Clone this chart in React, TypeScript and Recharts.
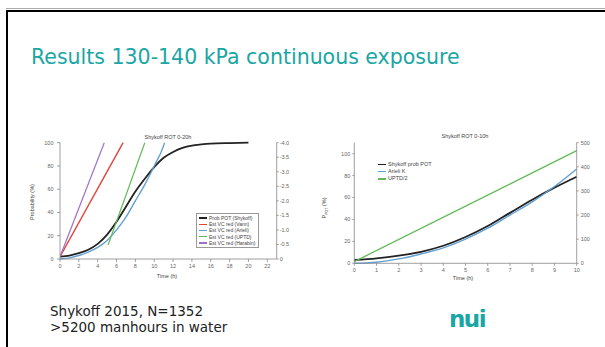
import { LineChart, Line, XAxis, YAxis } from 'recharts';

// ---- chart 1: Shykoff ROT 0-20h ----
const potHours20 = [0, 1, 2, 3, 4, 5, 6, 7, 8, 9, 10, 11, 12, 13, 14, 15, 16, 18, 20];
const potProb20 = [2, 3, 5, 8, 13, 21, 32, 45, 58, 69, 79, 87, 92, 95.5, 97.5, 98.5, 99.2, 99.7, 100];
const vannHours = [0, 6.7];
const vannVC = [-0.08, -4.0];
const arieliHours20 = [0, 1, 2, 3, 4, 5, 6, 7, 8, 9, 10, 11, 11.1];
const arieliVC = [0, -0.04, -0.12, -0.24, -0.4, -0.64, -1.0, -1.44, -2.0, -2.56, -3.2, -3.9, -4.0];
const uptdHours20 = [5.1, 9.0];
const uptdVC = [-0.48, -4.0];
const harabinHours = [0, 4.7];
const harabinVC = [-0.08, -4.0];
const timeTicks20 = [0, 2, 4, 6, 8, 10, 12, 14, 16, 18, 20, 22];
const probTicks = [0, 20, 40, 60, 80, 100];
const vcTicks = [0, -0.5, -1, -1.5, -2, -2.5, -3, -3.5, -4];

// ---- chart 2: Shykoff ROT 0-10h ----
const hours10 = [0, 1, 2, 3, 4, 5, 6, 7, 8, 9, 10];
const shykoffProb10 = [3, 4.5, 7, 10.5, 16, 24, 34, 46, 58, 69, 79];
const arieliK10 = [0, 1, 4, 8.5, 14, 22, 32, 44, 56, 70, 86];
const uptdHalfHours = [0, 10];
const uptdHalf = [7, 467];
const timeTicks10 = [0, 1, 2, 3, 4, 5, 6, 7, 8, 9, 10];
const rightTicks10 = [0, 100, 200, 300, 400, 500];

const zip = (t: number[], v: number[]) => t.map((x, i) => ({ t: x, v: v[i] }));

const BLACK = '#222';
const RED = '#e0453c';
const BLUE = '#62a0d2';
const GREEN = '#62b95a';
const PURPLE = '#a070c8';
const GREY = '#666';
const TEAL = '#19a6a4';

const series1 = [
  { name: 'Prob POT (Shykoff)', color: BLACK, axis: 'p', data: zip(potHours20, potProb20), w: 1.8 },
  { name: 'Est VC red (Vann)', color: RED, axis: 'vc', data: zip(vannHours, vannVC), w: 1.4 },
  { name: 'Est VC red (Arieli)', color: BLUE, axis: 'vc', data: zip(arieliHours20, arieliVC), w: 1.4 },
  { name: 'Est VC red (UPTD)', color: GREEN, axis: 'vc', data: zip(uptdHours20, uptdVC), w: 1.2 },
  { name: 'Est VC red (Harabin)', color: PURPLE, axis: 'vc', data: zip(harabinHours, harabinVC), w: 1.2 },
];

const series2 = [
  { name: 'Shykoff prob POT', color: BLACK, axis: 'p', data: zip(hours10, shykoffProb10), w: 1.8 },
  { name: 'Arieli K', color: BLUE, axis: 'p', data: zip(hours10, arieliK10), w: 1.4 },
  { name: 'UPTD/2', color: GREEN, axis: 'r', data: zip(uptdHalfHours, uptdHalf), w: 1.3 },
];

const tickFont = { fontSize: 5.5, fill: GREY, fontFamily: 'Liberation Sans' };
const axisLine = { stroke: '#888', strokeWidth: 0.8 };

function SmallLegend({ items, left, top, border, fontSize, row }: any) {
  return (
    <div
      style={{
        position: 'absolute',
        left,
        top,
        border: border ? '0.6px solid #999' : 'none',
        padding: '1px 3px 1px 2px',
        background: '#fff',
        fontFamily: 'Liberation Sans',
        fontSize,
        color: '#444',
        lineHeight: `${row}px`,
      }}
    >
      {items.map((s: any) => (
        <div key={s.name} style={{ display: 'flex', alignItems: 'center', height: row, whiteSpace: 'nowrap' }}>
          <span style={{ display: 'inline-block', width: 8, height: 1.4, background: s.color, marginRight: 2 }} />
          {s.name}
        </div>
      ))}
    </div>
  );
}

function Txt({ x, y, children, size = 5.5, rotate = false }: any) {
  return (
    <div
      style={{
        position: 'absolute',
        left: x,
        top: y,
        transform: `translate(-50%, -50%)${rotate ? ' rotate(-90deg)' : ''}`,
        fontFamily: 'Liberation Sans',
        fontSize: size,
        color: '#444',
        whiteSpace: 'nowrap',
      }}
    >
      {children}
    </div>
  );
}

export default function App() {
  return (
    <div
      style={{
        position: 'absolute',
        left: 0,
        top: 0,
        width: 605,
        height: 347,
        background: '#fff',
        overflow: 'hidden',
        fontFamily: 'DejaVu Sans',
      }}
    >
      {/* slide frame */}
      <div style={{ position: 'absolute', left: 6, top: 8, width: 599, height: 1, background: '#aaa' }} />
      <div style={{ position: 'absolute', left: 6, top: 9.5, width: 599, height: 2.2, background: '#000' }} />
      <div style={{ position: 'absolute', left: 6, top: 9.5, width: 2.2, height: 340, background: '#000' }} />

      <div
        style={{
          position: 'absolute',
          left: 31,
          top: 45,
          fontSize: 20.5,
          color: TEAL,
          whiteSpace: 'nowrap',
          lineHeight: '24px',
        }}
      >
        Results 130-140 kPa continuous exposure
      </div>

      {/* chart 1 */}
      <div style={{ position: 'absolute', left: 20, top: 125 }}>
        <LineChart width={285} height={160} margin={{ top: 17.7, right: 3.3, bottom: 6, left: 0 }}>
          <XAxis
            type="number"
            dataKey="t"
            domain={[0, 23]}
            ticks={timeTicks20}
            allowDataOverflow
            height={20}
            tick={tickFont}
            tickSize={3}
            tickMargin={2}
            axisLine={axisLine}
            tickLine={axisLine}
          />
          <YAxis
            yAxisId="p"
            domain={[0, 100]}
            ticks={probTicks}
            width={40}
            tick={tickFont}
            tickSize={3}
            tickMargin={3.5}
            axisLine={axisLine}
            tickLine={axisLine}
          />
          <YAxis
            yAxisId="vc"
            orientation="right"
            domain={[-4, 0]}
            reversed
            ticks={vcTicks}
            width={25}
            tick={tickFont}
            tickSize={2}
            tickMargin={1}
            axisLine={axisLine}
            tickLine={axisLine}
            tickFormatter={(v: number) => (v === 0 ? '0' : v.toFixed(1))}
          />
          {series1.map((s) => (
            <Line
              key={s.name}
              yAxisId={s.axis}
              data={s.data}
              dataKey="v"
              type="monotone"
              stroke={s.color}
              strokeWidth={s.w}
              dot={false}
              isAnimationActive={false}
            />
          ))}
        </LineChart>
      </div>
      <Txt x={168} y={137}>Shykoff ROT 0-20h</Txt>
      <Txt x={167} y={276}>Time (h)</Txt>
      <Txt x={32} y={202} rotate>Probability (%)</Txt>
      <SmallLegend items={series1} left={196} top={213} border fontSize={5} row={6.2} />

      {/* chart 2 */}
      <div style={{ position: 'absolute', left: 310, top: 120 }}>
        <LineChart width={295} height={170} margin={{ top: 22.7, right: 3.3, bottom: 6.7, left: 0 }}>
          <XAxis
            type="number"
            dataKey="t"
            domain={[0, 10]}
            ticks={timeTicks10}
            height={20}
            tick={tickFont}
            tickSize={2.5}
            tickMargin={2}
            axisLine={axisLine}
            tickLine={axisLine}
          />
          <YAxis
            yAxisId="p"
            domain={[0, 110]}
            ticks={probTicks}
            width={44.3}
            tick={tickFont}
            tickSize={2}
            tickMargin={2}
            axisLine={axisLine}
            tickLine={axisLine}
          />
          <YAxis
            yAxisId="r"
            orientation="right"
            domain={[0, 500]}
            ticks={rightTicks10}
            width={25}
            tick={tickFont}
            tickSize={2}
            tickMargin={2}
            axisLine={axisLine}
            tickLine={axisLine}
          />
          {series2.map((s) => (
            <Line
              key={s.name}
              yAxisId={s.axis}
              data={s.data}
              dataKey="v"
              type="monotone"
              stroke={s.color}
              strokeWidth={s.w}
              dot={false}
              isAnimationActive={false}
            />
          ))}
        </LineChart>
      </div>
      <Txt x={465} y={136}>Shykoff ROT 0-10h</Txt>
      <Txt x={463} y={278}>Time (h)</Txt>
      <Txt x={325} y={208} rotate>
        P<sub style={{ fontSize: 3.5 }}>POT</sub> (%)
      </Txt>
      <SmallLegend items={series2} left={376} top={160} fontSize={5.5} row={7.2} />

      {/* footer */}
      <div
        style={{
          position: 'absolute',
          left: 50,
          top: 303,
          fontSize: 13.5,
          lineHeight: '16px',
          color: '#222',
          whiteSpace: 'nowrap',
        }}
      >
        Shykoff 2015, N=1352
        <br />
        &gt;5200 manhours in water
      </div>
      <div
        style={{
          position: 'absolute',
          left: 449,
          top: 304,
          fontSize: 23,
          fontWeight: 'bold',
          color: TEAL,
          letterSpacing: -1.5,
          lineHeight: '30px',
        }}
      >
        nui
      </div>
    </div>
  );
}
